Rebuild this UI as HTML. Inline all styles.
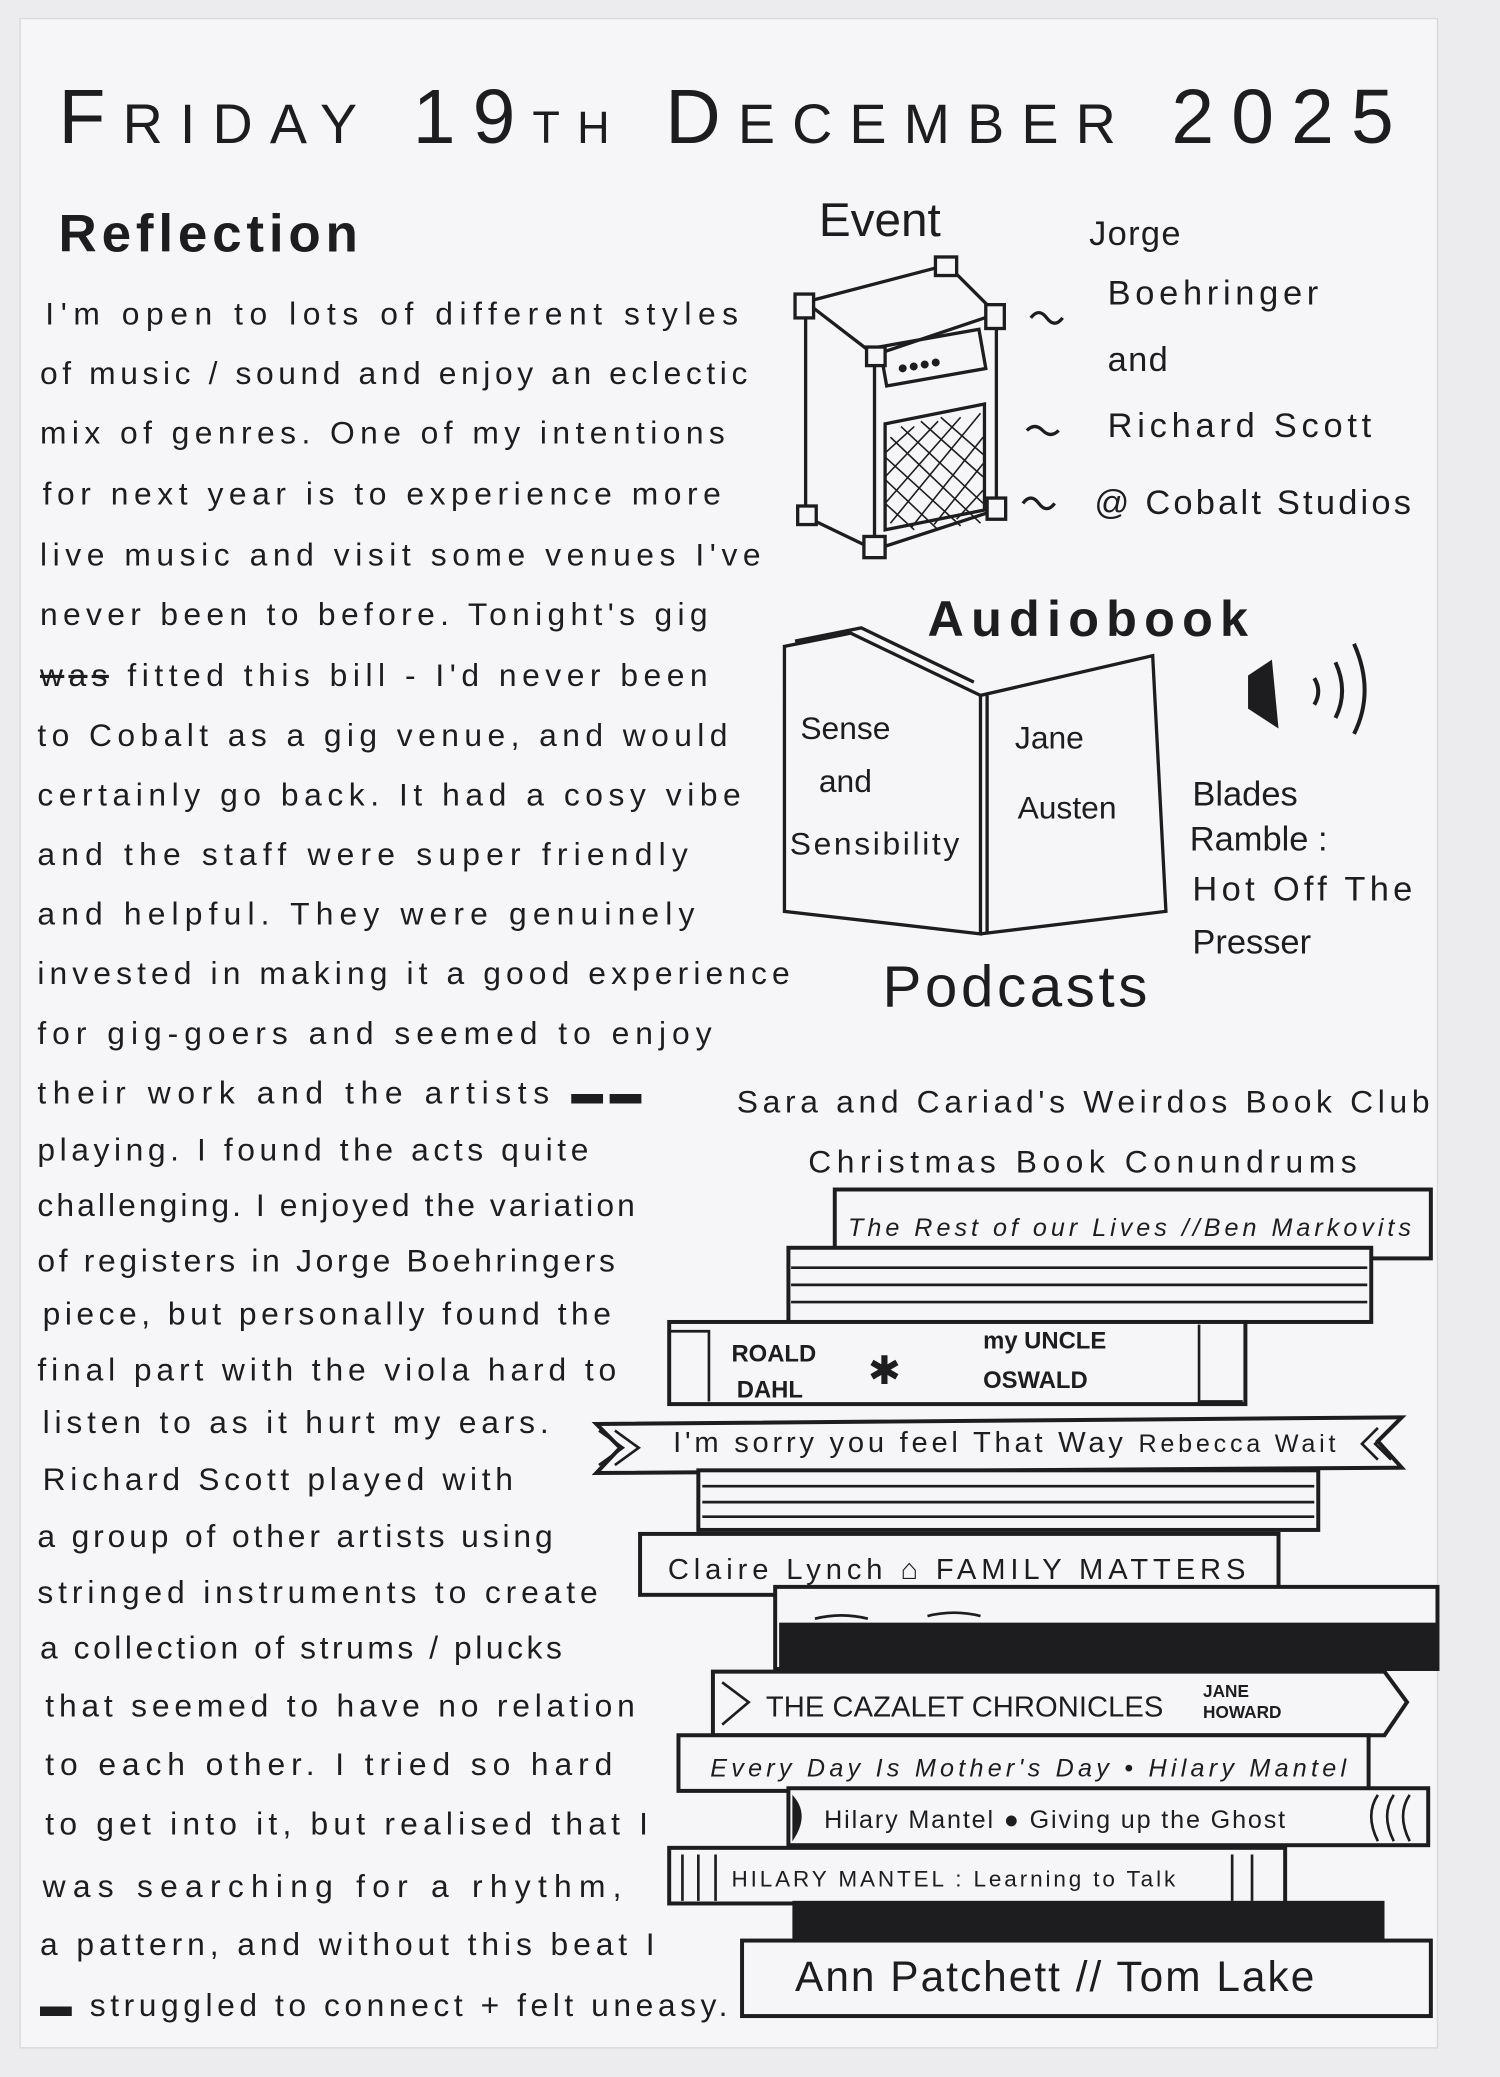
<!DOCTYPE html>
<html><head><meta charset="utf-8"><style>
html,body{margin:0;padding:0;background:#e9e9ec;}
svg{display:block}
text{font-family:"Liberation Sans",sans-serif;fill:#1d1d1f;}
</style></head><body>
<svg width="1500" height="2077" viewBox="0 0 1132 1568" xmlns="http://www.w3.org/2000/svg">
<rect x="0" y="0" width="1132" height="1568" fill="#ececef"/>
<rect x="15" y="14" width="1070" height="1532" fill="#f6f6f8" stroke="#d8d8dc"/>
<text x="44" y="108" font-size="58" textLength="1008" lengthAdjust="spacing">F<tspan font-size="42">RIDAY</tspan>  19<tspan font-size="34">TH</tspan> D<tspan font-size="42">ECEMBER</tspan>  2025</text>
<text x="44" y="190" font-size="40" font-weight="bold" textLength="226">Reflection</text>
<g font-size="24" letter-spacing="1" lengthAdjust="spacing">
<text x="34" y="245" textLength="524">I'm open to lots of different styles</text>
<text x="30" y="290" textLength="535">of music / sound and enjoy an eclectic</text>
<text x="30" y="335" textLength="518">mix of genres. One of my intentions</text>
<text x="32" y="381" textLength="513">for next year is to experience more</text>
<text x="30" y="427" textLength="545">live music and visit some venues I've</text>
<text x="30" y="472" textLength="505">never been to before. Tonight's gig</text>
<text x="30" y="518" textLength="505"><tspan text-decoration="line-through">was</tspan> fitted this bill - I'd never been</text>
<text x="28" y="563" textLength="522">to Cobalt as a gig venue, and would</text>
<text x="28" y="608" textLength="532">certainly go back. It had a cosy vibe</text>
<text x="28" y="653" textLength="492">and the staff were super friendly</text>
<text x="28" y="698" textLength="497">and helpful. They were genuinely</text>
<text x="28" y="743" textLength="569">invested in making it a good experience</text>
<text x="28" y="788" textLength="510">for gig-goers and seemed to enjoy</text>
<text x="28" y="833" textLength="457">their work and the artists <tspan font-weight="bold">▬▬</tspan></text>
<text x="28" y="876" textLength="417">playing. I found the acts quite</text>
<text x="28" y="918" textLength="452">challenging. I enjoyed the variation</text>
<text x="28" y="960" textLength="437">of registers in Jorge Boehringers</text>
<text x="32" y="1000" textLength="430">piece, but personally found the</text>
<text x="28" y="1042" textLength="438">final part with the viola hard to</text>
<text x="32" y="1082" textLength="383">listen to as it hurt my ears.</text>
<text x="32" y="1125" textLength="356">Richard Scott played with</text>
<text x="28" y="1168" textLength="390">a group of other artists using</text>
<text x="28" y="1210" textLength="424">stringed instruments to create</text>
<text x="30" y="1252" textLength="395">a collection of strums / plucks</text>
<text x="34" y="1296" textLength="446">that seemed to have no relation</text>
<text x="34" y="1340" textLength="429">to each other. I tried so hard</text>
<text x="34" y="1385" textLength="456">to get into it, but realised that I</text>
<text x="32" y="1432" textLength="438">was searching for a rhythm,</text>
<text x="30" y="1476" textLength="465">a pattern, and without this beat I</text>
<text x="30" y="1522" textLength="520">▬ struggled to connect + felt uneasy.</text>
</g>
<text x="618" y="178" font-size="36">Event</text>
<g font-size="26" letter-spacing="1">
<text x="822" y="185">Jorge</text>
<text x="836" y="230" textLength="160">Boehringer</text>
<text x="836" y="280">and</text>
<text x="836" y="330" textLength="200">Richard Scott</text>
<text x="826" y="388" textLength="240">@ Cobalt Studios</text>
</g>
<g fill="none" stroke="#1d1d1f" stroke-width="2.5">
<path d="M608 228 L715 200 L752 237 L660 268 Z"/>
<path d="M608 228 L608 390 L660 415 L660 268"/>
<path d="M752 237 L752 385 L660 415"/>
<rect x="666" y="255" width="76" height="30" transform="rotate(-10 704 270)"/>
<path d="M668 320 L743 305 L743 385 L668 400 Z"/>
<path d="M778 240 q6 -8 12 0 q6 8 12 0 M775 325 q6 -6 12 0 q6 6 12 0 M772 380 q6 -8 12 0 q6 8 12 0"/>
</g>
<g stroke="#1d1d1f" stroke-width="1.2">
<path d="M672 330 L740 395 M680 322 L742 380 M695 318 L742 360 M710 315 L742 343 M668 345 L725 397 M668 362 L708 400 M668 380 L690 400 M740 312 L672 395 M725 315 L668 380 M708 318 L668 360 M690 322 L668 342 M742 330 L688 398 M742 350 L705 396 M742 370 L722 392"/>
</g>
<g fill="#f6f6f8" stroke="#1d1d1f" stroke-width="2.5">
<rect x="600" y="222" width="14" height="18"/><rect x="706" y="194" width="16" height="14"/>
<rect x="744" y="230" width="14" height="18"/><rect x="654" y="262" width="14" height="14"/>
<rect x="602" y="382" width="14" height="14"/><rect x="652" y="405" width="16" height="16"/>
<rect x="745" y="376" width="14" height="16"/>
</g>
<text x="676" y="278" font-size="14" transform="rotate(-10 704 270)">●●●●</text>
<text x="700" y="480" font-size="38" font-weight="bold" textLength="242">Audiobook</text>
<g fill="none" stroke="#1d1d1f" stroke-width="2.5">
<path d="M592 488 L642 478 L740 525 L740 705 L592 688 Z"/>
<path d="M600 484 L650 474 L735 515"/>
<path d="M740 525 L870 495 L880 688 L740 705"/>
<path d="M745 705 L745 525"/>
</g>
<g font-size="24">
<text x="604" y="558">Sense</text><text x="618" y="598">and</text><text x="596" y="645" textLength="128">Sensibility</text>
<text x="766" y="565">Jane</text><text x="768" y="618">Austen</text>
</g>
<path d="M942 510 L960 498 L965 550 L942 535 Z" fill="#1d1d1f"/>
<g fill="none" stroke="#1d1d1f" stroke-width="3"><path d="M992 512 q6 10 0 20 M1008 500 q10 22 0 42 M1022 486 q16 36 0 68"/></g>
<g font-size="26">
<text x="900" y="608">Blades</text><text x="898" y="642">Ramble :</text><text x="900" y="680" textLength="166">Hot Off The</text><text x="900" y="720">Presser</text>
</g>
<text x="666" y="760" font-size="44" textLength="200">Podcasts</text>
<text x="556" y="840" font-size="24" letter-spacing="1" textLength="524" lengthAdjust="spacing">Sara and Cariad's Weirdos Book Club</text>
<text x="610" y="885" font-size="24" letter-spacing="1" textLength="415" lengthAdjust="spacing">Christmas Book Conundrums</text>
<g fill="#f6f6f8" stroke="#1d1d1f" stroke-width="3">
<rect x="630" y="898" width="450" height="52"/>
<rect x="595" y="942" width="440" height="56"/>
<rect x="505" y="998" width="435" height="62"/>
<path d="M450 1075 L1058 1070 L1040 1088 L1058 1108 L450 1112 L468 1093 Z"/>
<rect x="527" y="1110" width="468" height="45"/>
<rect x="483" y="1158" width="482" height="46"/>
<rect x="585" y="1198" width="500" height="62"/>
<path d="M538 1262 L1045 1262 L1062 1285 L1045 1310 L538 1310 Z"/>
<rect x="512" y="1310" width="521" height="42"/>
<rect x="595" y="1350" width="483" height="43"/>
<rect x="505" y="1395" width="465" height="42"/>
<rect x="560" y="1465" width="520" height="57"/>
</g>
<rect x="598" y="1435" width="447" height="30" fill="#1d1d1f"/>
<rect x="588" y="1225" width="497" height="35" fill="#1d1d1f"/>
<g stroke="#1d1d1f" stroke-width="2" fill="none">
<path d="M597 957 H1032 M597 970 H1032 M597 983 H1032 M530 1122 H992 M530 1134 H992 M530 1145 H992"/>
<path d="M505 1005 H535 V1058 M905 1000 V1058 H938 M452 1080 L470 1093 L452 1106 M464 1080 L482 1093 L464 1106 M1040 1078 L1028 1090 L1040 1102 M1050 1078 L1038 1090 L1050 1102"/>
<path d="M545 1270 L565 1285 L545 1302 M515 1400 V1435 M527 1400 V1435 M540 1400 V1435 M930 1400 V1435 M945 1400 V1435 M1040 1355 q-10 15 0 35 M1052 1355 q-10 15 0 35 M1064 1355 q-10 15 0 35"/>
<path d="M615 1222 q20 -5 40 0 M700 1220 q20 -5 40 0"/>
</g>
<path d="M598 1355 q14 15 0 35 Z" fill="#1d1d1f"/>
<g fill="#1d1d1f">
<text x="640" y="933" font-size="19" font-style="italic" textLength="425">The Rest of our Lives //Ben Markovits</text>
<text x="552" y="1028" font-size="18" font-weight="bold">ROALD</text>
<text x="556" y="1055" font-size="18" font-weight="bold">DAHL</text>
<text x="655" y="1045" font-size="30">✱</text>
<text x="742" y="1018" font-size="18" font-weight="bold">my UNCLE</text>
<text x="742" y="1048" font-size="18" font-weight="bold">OSWALD</text>
<text x="508" y="1096" font-size="22" textLength="500">I'm sorry you feel That Way <tspan font-size="19">Rebecca Wait</tspan></text>
<text x="504" y="1192" font-size="22" textLength="436">Claire Lynch ⌂ FAMILY MATTERS</text>
<text x="578" y="1296" font-size="22" textLength="300">THE CAZALET CHRONICLES</text>
<text x="908" y="1281" font-size="13" font-weight="bold">JANE</text>
<text x="908" y="1297" font-size="13" font-weight="bold">HOWARD</text>
<text x="536" y="1341" font-size="19" font-style="italic" textLength="480">Every Day Is Mother's Day • Hilary Mantel</text>
<text x="622" y="1380" font-size="19" textLength="348">Hilary Mantel ● Giving up the Ghost</text>
<text x="552" y="1424" font-size="17" textLength="335">HILARY MANTEL : Learning to Talk</text>
<text x="600" y="1503" font-size="32" textLength="392">Ann Patchett // Tom Lake</text>
</g>
</svg>
</body></html>
